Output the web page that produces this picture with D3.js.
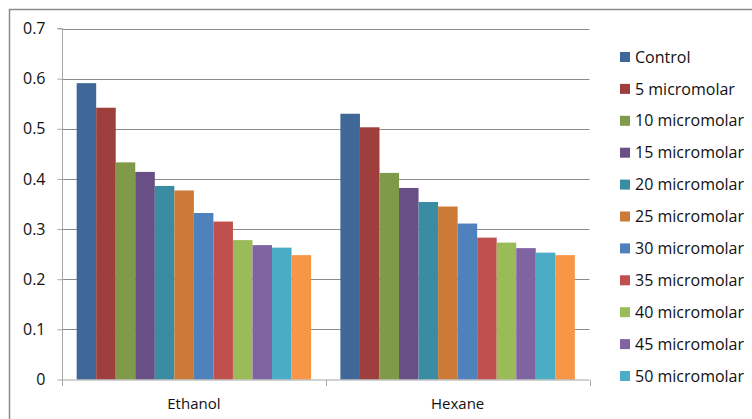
<!DOCTYPE html>
<html>
<head>
<meta charset="utf-8">
<script src="https://cdn.jsdelivr.net/npm/d3@7/dist/d3.min.js"></script>
<style>
  html, body { margin: 0; padding: 0; background: #fff; }
  svg { display: block; font-family: "Open Sans", "Liberation Sans", sans-serif; }
</style>
</head>
<body>
<svg id="chart" width="752" height="419"></svg>
<script>
// Solvent extracts (x categories)
const categories = ["Ethanol", "Hexane"];

// Treatment series, in drawing order
const seriesNames = [
  "Control", "5 micromolar", "10 micromolar", "15 micromolar", "20 micromolar",
  "25 micromolar", "30 micromolar", "35 micromolar", "40 micromolar",
  "45 micromolar", "50 micromolar", "55 micromolar"
];

// Measured values per series: [Ethanol, Hexane]
const ethanolValues = [0.591, 0.542, 0.433, 0.414, 0.386, 0.377, 0.332, 0.315, 0.278, 0.268, 0.263, 0.248];
const hexaneValues  = [0.530, 0.503, 0.412, 0.382, 0.354, 0.345, 0.311, 0.283, 0.273, 0.262, 0.253, 0.248];

const seriesColors = [
  "#3f6798", "#9e3f3d", "#7f9a48", "#684f86", "#3a8ca3", "#cb7b37",
  "#4f81bd", "#c0504d", "#9bbb59", "#8064a2", "#4bacc6", "#f79646"
];

const yTicks = [0, 0.1, 0.2, 0.3, 0.4, 0.5, 0.6, 0.7];

const svg = d3.select("#chart");

// Outer chart frame (left and top edges visible)
svg.append("path")
  .attr("d", "M9.5,419 V9.5 H752")
  .attr("fill", "none")
  .attr("stroke", "#8c8c8c")
  .attr("stroke-width", 1.5);

const plot = { left: 62, right: 589.5, top: 28.5, bottom: 379.5 };

const y = d3.scaleLinear().domain([0, 0.7]).range([plot.bottom, plot.top]);
const x0 = d3.scaleBand().domain(categories).range([plot.left, plot.right]).paddingInner(0).paddingOuter(0);
const x1 = d3.scaleBand().domain(seriesNames).range([0, x0.bandwidth()]).paddingInner(0).paddingOuter(0.75);

// Horizontal gridlines
svg.append("g")
  .selectAll("line")
  .data(yTicks.filter(d => d > 0))
  .join("line")
  .attr("x1", plot.left).attr("x2", plot.right)
  .attr("y1", d => Math.round(y(d)) + 0.5).attr("y2", d => Math.round(y(d)) + 0.5)
  .attr("stroke", "#8a8a8a")
  .attr("stroke-width", 1);

// Bars
const rows = seriesNames.map((name, i) => ({ name, i, values: [ethanolValues[i], hexaneValues[i]] }));
svg.append("g")
  .selectAll("g")
  .data(rows)
  .join("g")
  .attr("fill", d => seriesColors[d.i])
  .selectAll("rect")
  .data(d => d.values.map((v, k) => ({ name: d.name, cat: categories[k], v })))
  .join("rect")
  .attr("x", d => x0(d.cat) + x1(d.name))
  .attr("width", x1.bandwidth())
  .attr("y", d => y(d.v))
  .attr("height", d => y(0) - y(d.v));

// Y axis
const yAxis = d3.axisLeft(y).tickValues(yTicks).tickSize(5).tickPadding(12)
  .tickFormat(d => d === 0 ? "0" : d3.format(".1f")(d));
const gy = svg.append("g").attr("transform", `translate(${plot.left + 0.5},0)`).call(yAxis);
gy.select(".domain").attr("stroke", "#a6a6a6").attr("d", `M-5,${plot.top}H0V${plot.bottom + 0.5}`);
gy.selectAll(".tick line").attr("stroke", "#a6a6a6");
gy.selectAll(".tick text").attr("fill", "#111").style("font-size", "16px").style("font-family", "'Open Sans', sans-serif");

// X axis with category boundary ticks
const gx = svg.append("g").attr("transform", `translate(0,${plot.bottom + 0.5})`);
gx.append("line").attr("x1", plot.left).attr("x2", plot.right).attr("stroke", "#a6a6a6");
const bounds = categories.map(c => x0(c)).concat([plot.right]);
gx.selectAll("line.b").data(bounds).join("line").attr("class", "b")
  .attr("x1", d => Math.round(d) + 0.5).attr("x2", d => Math.round(d) + 0.5)
  .attr("y1", 0).attr("y2", 6).attr("stroke", "#a6a6a6");
gx.selectAll("text").data(categories).join("text")
  .attr("x", d => x0(d) + x0.bandwidth() / 2)
  .attr("y", 29)
  .attr("text-anchor", "middle")
  .attr("fill", "#111")
  .style("font-size", "15px")
  .text(d => d);

// Legend, clipped to its box
svg.append("defs").append("clipPath").attr("id", "legendClip")
  .append("rect").attr("x", 600).attr("y", 30).attr("width", 152).attr("height", 362);
const legend = svg.append("g").attr("clip-path", "url(#legendClip)");
const item = legend.selectAll("g").data(seriesNames).join("g")
  .attr("transform", (d, i) => `translate(620,${57 + i * 31.9})`);
item.append("rect").attr("x", 0).attr("y", -5).attr("width", 10).attr("height", 10)
  .attr("fill", (d, i) => seriesColors[i]);
item.append("text").attr("x", 15).attr("y", 0).attr("dy", "0.35em")
  .attr("fill", "#111").style("font-size", "16px").text(d => d);
</script>
</body>
</html>
